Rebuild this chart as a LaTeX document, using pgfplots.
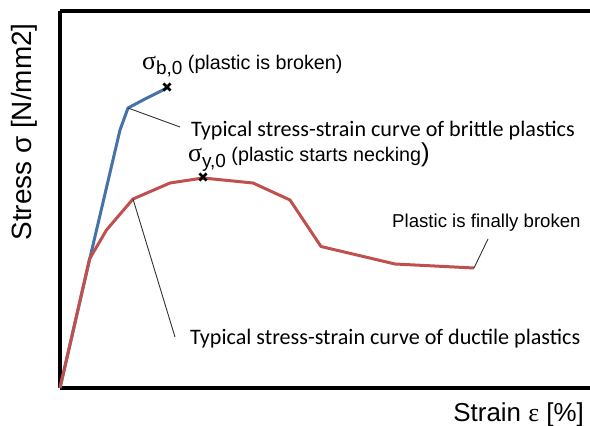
\documentclass[border=0pt]{standalone}
\usepackage{fontspec}
\setmainfont{Liberation Sans}
\newfontfamily\carlito{Carlito}
\newfontfamily\serifgr{Liberation Serif}
\usepackage{pgfplots}
\pgfplotsset{compat=1.18}
\definecolor{cblue}{HTML}{4572A7}
\definecolor{cred}{HTML}{C0504D}
\newcommand{\fs}[1]{\fontsize{#1}{#1}\selectfont}
\begin{document}
\begin{tikzpicture}
\useasboundingbox (-60bp,-38bp) rectangle (530bp,388bp);
\begin{axis}[
  at={(0,0)}, anchor=south west,
  scale only axis, width=530bp, height=377bp,
  xmin=0, xmax=530, ymin=0, ymax=377,
  axis x line=box, axis y line=left,
  axis line style={-, line width=3.2bp, black},
  x axis line style={-}, y axis line style={-},
  ticks=none, clip=false,
]
% brittle curve
\addplot[cblue, line width=3bp, line join=round] coordinates {
 (0,0) (29.5,128) (60,258) (68,280) (85,289) (95,294) (107,300)};
% ductile curve
\addplot[cred, line width=3bp, line join=round] coordinates {
 (0,0) (29.5,129) (46.5,158) (73,189) (110,205) (143,210) (193,205)
 (230,188) (261,141.5) (335,124) (414,120)};
% break / yield marks
\addplot[only marks, mark=x, mark size=5bp, line width=2.8bp, black] coordinates {(107,301) (143,211)};
% leader lines
\addplot[black!80, line width=0.9bp] coordinates {(68,280) (120,261)};
\addplot[black!80, line width=0.9bp] coordinates {(73,189) (115,51)};
\addplot[black!80, line width=0.9bp] coordinates {(414,120) (428,149)};
% texts
\node[anchor=base west, inner sep=0] at (axis cs:131,251) {\carlito\fs{22.2}Typical stress-strain curve of brittle plastics};
\node[anchor=base west, inner sep=0] at (axis cs:130,44) {\carlito\fs{22.2}Typical stress-strain curve of ductile plastics};
\node[anchor=base west, inner sep=0] at (axis cs:332,160) {\fs{18.7}Plastic is finally broken};
\node[anchor=base west, inner sep=0] at (axis cs:82,318) {{\serifgr\fs{26}σ}\raisebox{-5bp}{\fs{19}b,0}\fs{19.8} (plastic is broken)};
\node[anchor=base west, inner sep=0] at (axis cs:128,226) {{\serifgr\fs{26}σ}\raisebox{-6bp}{\fs{19}y,0}\fs{19.8} (plastic starts necking{\fs{26})}};
\node[rotate=90, anchor=center, inner sep=0] at (axis cs:-36,256) {\fs{28}Stress σ [N/mm2]};
\node[anchor=base east, inner sep=0] at (axis cs:524,-33) {\fs{26}Strain {\serifgr ε} [\%]};
\end{axis}
\end{tikzpicture}
\end{document}
